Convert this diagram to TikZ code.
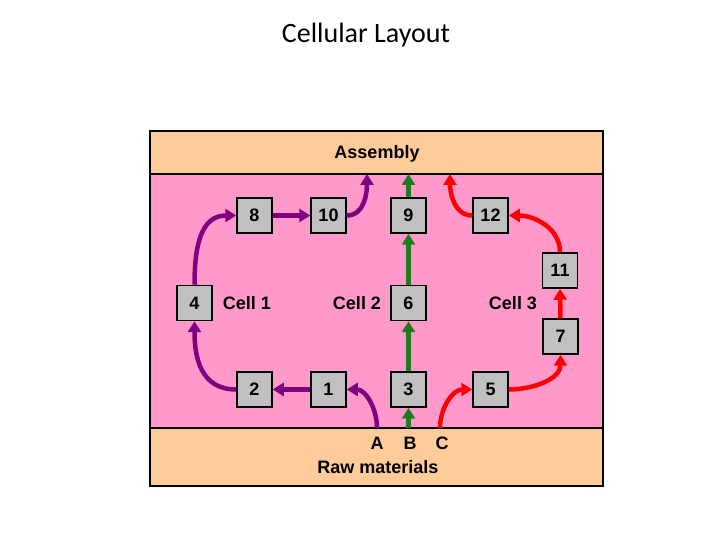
\documentclass[tikz,border=0pt]{standalone}
\usepackage{fontspec}
\setmainfont{Liberation Sans}
\newfontfamily\titlefont{Carlito}
\usetikzlibrary{arrows.meta}
\definecolor{pinkbg}{HTML}{FF99CC}
\definecolor{bandbg}{HTML}{FFCC99}
\definecolor{boxgray}{HTML}{C0C0C0}
\definecolor{purp}{HTML}{800080}
\definecolor{grn}{HTML}{1E7B1E}
\definecolor{rd}{HTML}{FF0000}
\tikzset{
  stn/.style={draw=black, line width=1.5pt, fill=boxgray, minimum size=35pt, inner sep=0pt, font=\fontsize{18}{20}\selectfont\bfseries},
  lbl/.style={font=\fontsize{18}{20}\selectfont\bfseries, inner sep=0pt},
  flow/.style={line width=4.5pt, -{Triangle[length=11pt,width=13pt]}},
  pflow/.style={flow, draw=purp, color=purp},
  gflow/.style={flow, draw=grn, color=grn},
  rflow/.style={flow, draw=rd, color=rd}
}
\begin{document}
\begin{tikzpicture}[x=1pt,y=1pt]
\useasboundingbox (0,0) rectangle (720,540);
\fill[white] (0,0) rectangle (720,540);
\node[font=\titlefont\fontsize{28}{32}\selectfont] (title) at (366,505) {Cellular Layout};
% regions
\fill[pinkbg] (150,112) rectangle (603,366);
\fill[bandbg] (150,366) rectangle (603,409);
\fill[bandbg] (150,54) rectangle (603,112);
\draw[line width=1.5pt] (150,366) -- (603,366);
\draw[line width=1.5pt] (150,112) -- (603,112);
\draw[line width=1.5pt] (150,54) rectangle (603,409);
\node[lbl] (asm) at (377,386) {Assembly};
\node[lbl] (raw) at (378,73) {Raw materials};
\node[lbl] (A) at (377,97) {A};
\node[lbl] (B) at (410,97) {B};
\node[lbl] (C) at (442,97) {C};
\coordinate (srcA) at (377,112);
\coordinate (srcB) at (408.5,112);
\coordinate (srcC) at (440,112);
\coordinate (dstP) at (367,366);
\coordinate (dstG) at (408.5,366);
\coordinate (dstR) at (450,366);
% stations
\node[stn] (n8) at (254.5,324.5) {8};
\node[stn] (n10) at (328.5,324.5) {10};
\node[stn] (n9) at (408.5,324.5) {9};
\node[stn] (n12) at (490.5,324.5) {12};
\node[stn] (n11) at (560,269.5) {11};
\node[stn] (n4) at (194.5,237) {4};
\node[stn] (n6) at (408.5,237) {6};
\node[stn] (n7) at (560.5,203.5) {7};
\node[stn] (n2) at (254.5,150.5) {2};
\node[stn] (n1) at (328.5,150.5) {1};
\node[stn] (n3) at (408.5,150.5) {3};
\node[stn] (n5) at (490.5,150.5) {5};
\node[lbl] (c1) at (247,237) {Cell 1};
\node[lbl] (c2) at (357,237) {Cell 2};
\node[lbl] (c3) at (513,237) {Cell 3};
% purple flow
\draw[pflow] (srcA) to[out=90,in=0] (n1.east);
\draw[pflow] (n1.west) -- (n2.east);
\draw[pflow] (n2.west) to[out=180,in=-90,looseness=1.15] (n4.south);
\draw[pflow] (n4.north) to[out=90,in=180,looseness=1.15] (n8.west);
\draw[pflow] (n8.east) -- (n10.west);
\draw[pflow] (n10.east) to[out=0,in=-90] (dstP);
% green flow
\draw[gflow] (srcB) -- (n3.south);
\draw[gflow] (n3.north) -- (n6.south);
\draw[gflow] (n6.north) -- (n9.south);
\draw[gflow] (n9.north) -- (dstG);
% red flow
\draw[rflow] (srcC) to[out=90,in=180] (n5.west);
\draw[rflow] (n5.east) to[out=0,in=-90] (n7.south);
\draw[rflow] (n7.north) -- (n11.south);
\draw[rflow] (n11.north) to[out=90,in=0] (n12.east);
\draw[rflow] (n12.west) to[out=180,in=-90] (dstR);
\end{tikzpicture}
\end{document}
